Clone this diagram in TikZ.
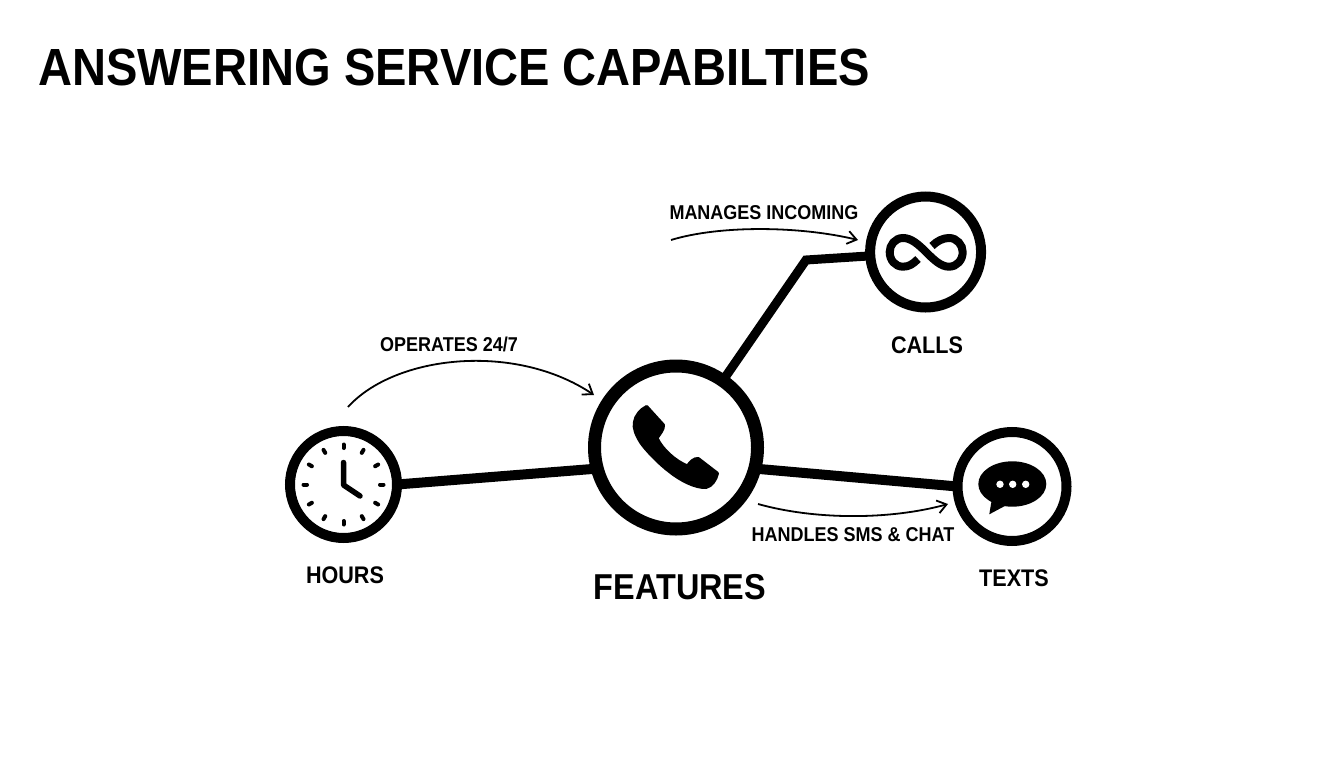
\documentclass[tikz,border=0pt]{standalone}
\usepackage{fontspec}
\setmainfont[FakeStretch=0.9]{Liberation Sans}
\usetikzlibrary{arrows.meta}

\tikzset{
    hub/.style={circle,draw,inner sep=0pt,outer sep=0pt},
    spoke/.style={line width=10pt},
    note/.style={-{Straight Barb[length=9pt,width=13pt]},line width=1.8pt},
    notetext/.style={inner sep=0pt,font=\fontsize{20}{24}\selectfont\bfseries},
    nodelabel/.style={inner sep=0pt,font=\fontsize{24}{28}\selectfont\bfseries},
    tick/.style={line width=4pt,line cap=round},
}

\begin{document}
\begin{tikzpicture}[x=1pt,y=-1pt]
    \useasboundingbox (0,0) rectangle (1344,768);

    \node[inner sep=0pt,anchor=west,font=\fontsize{52.3}{60}\selectfont\bfseries] (title) at (38,67) {ANSWERING SERVICE CAPABILTIES};

    \node[hub,line width=13pt,minimum size=163pt] (features) at (676,447.5) {};
    \node[hub,line width=10pt,minimum size=107pt] (hours) at (343.5,484.5) {};
    \node[hub,line width=10pt,minimum size=111pt] (calls) at (925.6,252) {};
    \node[hub,line width=10pt,minimum size=109pt] (texts) at (1012,486.5) {};

    \coordinate (elbow) at (806,260);
    \draw[spoke] (hours.0) -- (features.195);
    \draw[spoke] (features.-15) -- (texts.180);
    \draw[spoke,line width=9pt,line join=miter] (features.55) -- (elbow) -- (calls.184);

    % phone
    \filldraw[line width=3pt,line join=round]
        (646.7,406.5) -- (663.5,425) .. controls (664,429) and (660,434) .. (657,438)
        .. controls (662,449) and (675,461) .. (687.5,466)
        .. controls (690,462) and (694,458) .. (698.3,458.5)
        -- (717.5,473.3) .. controls (716,480) and (712,486) .. (706,487.5)
        .. controls (695,488) and (680,480) .. (670,472)
        .. controls (658,463) and (646,450) .. (641,443)
        .. controls (636,435) and (633,428) .. (634.5,422)
        .. controls (635,416) and (641,409) .. (646.7,406.5) -- cycle;

    % clock face
    \foreach \a in {0,30,...,330}
        \draw[tick,shift={(hours)}] (\a:36.5) -- (\a:40);
    \draw[line width=5.5pt,line cap=round,line join=round] (343.5,462.5) -- (343.5,485) -- (360,496);

    % infinity
    \draw[line width=8pt]
        (932,246) .. controls (937,241) and (943,238) .. (949,238)
        .. controls (957,238) and (962.7,245) .. (962.7,252)
        .. controls (962.7,260) and (957,266.7) .. (949,266.7)
        .. controls (941,266.7) and (934,260) .. (926,252)
        .. controls (918,244) and (911,238) .. (903,238)
        .. controls (895,238) and (889.7,245) .. (889.7,252)
        .. controls (889.7,260) and (895,266.7) .. (903,266.7)
        .. controls (909,266.7) and (913,264) .. (918,259);

    % chat
    \fill (1012.3,484) ellipse [x radius=34,y radius=22.7];
    \fill (989.3,514.3) -- (991.7,500) -- (1006.7,505) -- cycle;
    \foreach \x in {1000,1012.7,1025.7}
        \fill[white] (\x,484.3) circle [radius=3.7];

    % notes
    \coordinate (noteA) at (348,407);
    \coordinate (noteAend) at (594,395);
    \coordinate (noteB) at (671,240);
    \coordinate (noteBend) at (858,240);
    \coordinate (noteC) at (758,504);
    \coordinate (noteCend) at (948,504);
    \draw[note] (noteA) .. controls (395,355) and (515,342) .. (noteAend);
    \draw[note] (noteB) .. controls (720,225) and (800,226) .. (noteBend);
    \draw[note] (noteC) .. controls (815,520) and (890,520) .. (noteCend);

    \node[notetext] (opnote) at (449,344) {OPERATES 24/7};
    \node[notetext] (mannote) at (764,213) {MANAGES INCOMING};
    \node[notetext] (hannote) at (853,535) {HANDLES SMS \& CHAT};

    \node[nodelabel] (callslabel) at (927,345) {CALLS};
    \node[nodelabel] (hourslabel) at (345,575) {HOURS};
    \node[nodelabel] (textslabel) at (1014,578) {TEXTS};
    \node[nodelabel,font=\fontsize{36}{42}\selectfont\bfseries] (featlabel) at (680,587) {FEATURES};
\end{tikzpicture}
\end{document}
